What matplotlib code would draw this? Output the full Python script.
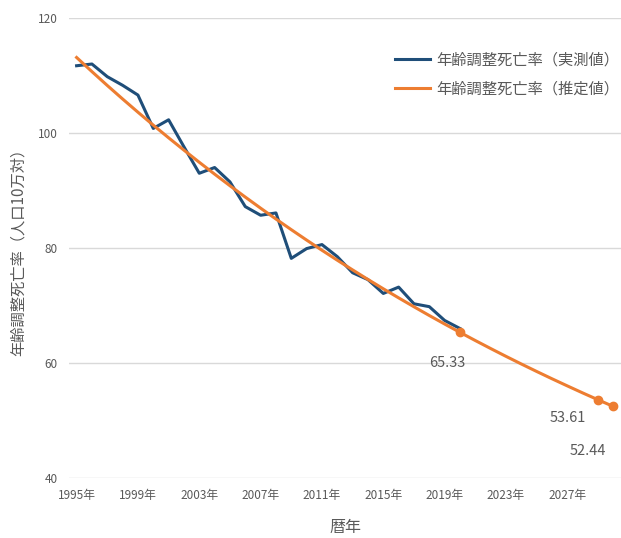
import numpy as np
import matplotlib
matplotlib.use('Agg')
import matplotlib.pyplot as plt

plt.rcParams['font.family'] = ['Noto Sans CJK JP', 'DejaVu Sans']

years = list(range(1995, 2031))

# observed (1995-2020)
observed = [111.7, 112.0, 109.8, 108.3, 106.6, 100.8, 102.3, 97.6, 93.0, 94.0,
            91.5, 87.2, 85.7, 86.1, 78.2, 79.9, 80.6, 78.5, 75.7, 74.5,
            72.1, 73.2, 70.3, 69.8, 67.4, 66.0]

# estimated (1995-2030)
estimated = [113.14, 110.68, 108.27, 105.92, 103.62, 101.37, 99.17, 97.02, 94.91, 92.85,
             90.83, 88.86, 86.93, 85.04, 83.19, 81.38, 79.61, 77.88, 76.19, 74.53,
             72.91, 71.33, 69.78, 68.26, 66.78, 65.33, 63.91, 62.52, 61.16, 59.83,
             58.53, 57.26, 56.02, 54.80, 53.61, 52.44]

marked_years = [2020, 2029, 2030]
label_offsets = [(-9, -22), (-22, -13), (-18, -32)]  # points

tick_years = list(range(1995, 2031, 4))
tick_labels = [f'{y}年' for y in tick_years]

blue = '#1f4e79'
orange = '#ed7d31'
grey = '#595959'

fig = plt.figure(figsize=(6.21, 5.38), dpi=100)
ax = fig.add_axes([0.111, 0.1115, 0.889, 0.855])

ax.plot(years[:len(observed)], observed, color=blue, lw=2.2,
        label='年齢調整死亡率（実測値）', zorder=3)
ax.plot(years, estimated, color=orange, lw=2.2,
        label='年齢調整死亡率（推定値）', zorder=4)

for yr, off in zip(marked_years, label_offsets):
    v = estimated[years.index(yr)]
    ax.plot(yr, v, 'o', color=orange, ms=6, zorder=5)
    ax.annotate(f'{v:.2f}', (yr, v), xytext=off, textcoords='offset points',
                ha='center', va='center', fontsize=10.5, color=grey)

ax.set_xlim(1994.5, 2030.5)
ax.set_ylim(40, 120)
ax.set_yticks([40, 60, 80, 100, 120])
ax.set_xticks(tick_years)
ax.set_xticklabels(tick_labels)
ax.tick_params(length=0, labelsize=8.5, colors=grey, pad=8)
ax.grid(axis='y', color='#d9d9d9', lw=1)
ax.set_axisbelow(True)
for s in ax.spines.values():
    s.set_visible(False)

ax.set_xlabel('暦年', fontsize=11.5, color=grey, labelpad=12)
ax.set_ylabel('年齢調整死亡率（人口10万対）', fontsize=11, color=grey, labelpad=8)

ax.legend(loc='upper left', bbox_to_anchor=(0.636, 0.905), bbox_transform=fig.transFigure,
          frameon=False, fontsize=11, labelcolor=grey, handlelength=2.3,
          handletextpad=0.4, labelspacing=0.8, borderpad=0, borderaxespad=0)

fig.savefig('out.png', dpi=100)
